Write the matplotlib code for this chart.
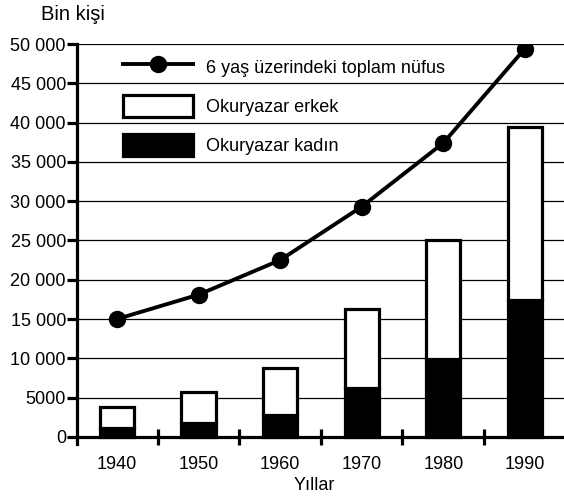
import matplotlib.pyplot as plt
import numpy as np

plt.rcParams["font.family"] = ["Liberation Sans", "DejaVu Sans"]

# data (thousands of people)
years = ["1940", "1950", "1960", "1970", "1980", "1990"]
total_pop = [15000, 18100, 22500, 29300, 37400, 49400]
literate_female = [1100, 1800, 2800, 6200, 9900, 17400]
literate_male = [2700, 3900, 6000, 10100, 15200, 22000]
yticks = [0, 5000, 10000, 15000, 20000, 25000, 30000, 35000, 40000, 45000, 50000]
ytick_labels = ["0", "5000", "10 000", "15 000", "20 000", "25 000",
                "30 000", "35 000", "40 000", "45 000", "50 000"]

FS = 13
x = np.arange(len(years))

fig = plt.figure(figsize=(5.64, 5.0), dpi=100)
ax = fig.add_axes([77 / 564, 1 - 444 / 500, 1 - 77 / 564, (444 - 44) / 500])

bars_f = ax.bar(x, literate_female, width=0.42, color="black", edgecolor="black",
                linewidth=2.3, zorder=3)
bars_m = ax.bar(x, literate_male, width=0.42, bottom=literate_female, color="white",
                edgecolor="black", linewidth=2.3, zorder=3)
line, = ax.plot(x, total_pop, color="black", lw=2.8, marker="o", markersize=11.5,
                zorder=4)

ax.set_xlim(-0.49, 5.48)
ax.set_ylim(-900, 50000)

for s in ["top", "right"]:
    ax.spines[s].set_visible(False)
ax.spines["bottom"].set_position(("data", 0))
ax.spines["left"].set_linewidth(2.3)
ax.spines["bottom"].set_linewidth(2.3)

ax.set_yticks(yticks)
ax.set_yticklabels(ytick_labels, fontsize=FS)
ax.tick_params(axis="y", direction="out", length=7, width=2.3, pad=1)
ax.yaxis.grid(True, color="black", lw=0.9, zorder=0)
ax.set_axisbelow(True)

ax.set_xticks(x)
ax.set_xticklabels(years, fontsize=FS)
ax.set_xticks(x[:-1] + 0.5, minor=True)
ax.tick_params(axis="x", which="major", length=0, pad=14)
ax.tick_params(axis="x", which="minor", direction="inout", length=12, width=2.3)

fig.text(314 / 564, 1 - 485 / 500, "Yıllar", ha="center", va="center", fontsize=FS)
fig.text(41 / 564, 1 - 14 / 500, "Bin kişi", ha="left", va="center", fontsize=14.5)

ax.legend([line, bars_m, bars_f],
          ["6 yaş üzerindeki toplam nüfus", "Okuryazar erkek", "Okuryazar kadın"],
          loc="upper left", bbox_to_anchor=(123 / 564, 1 - 56 / 500),
          bbox_transform=fig.transFigure, frameon=False, fontsize=FS,
          handlelength=3.9, handleheight=1.5, labelspacing=0.95,
          handletextpad=0.7, borderpad=0, borderaxespad=0, numpoints=1)

fig.savefig("out.png", dpi=100)
